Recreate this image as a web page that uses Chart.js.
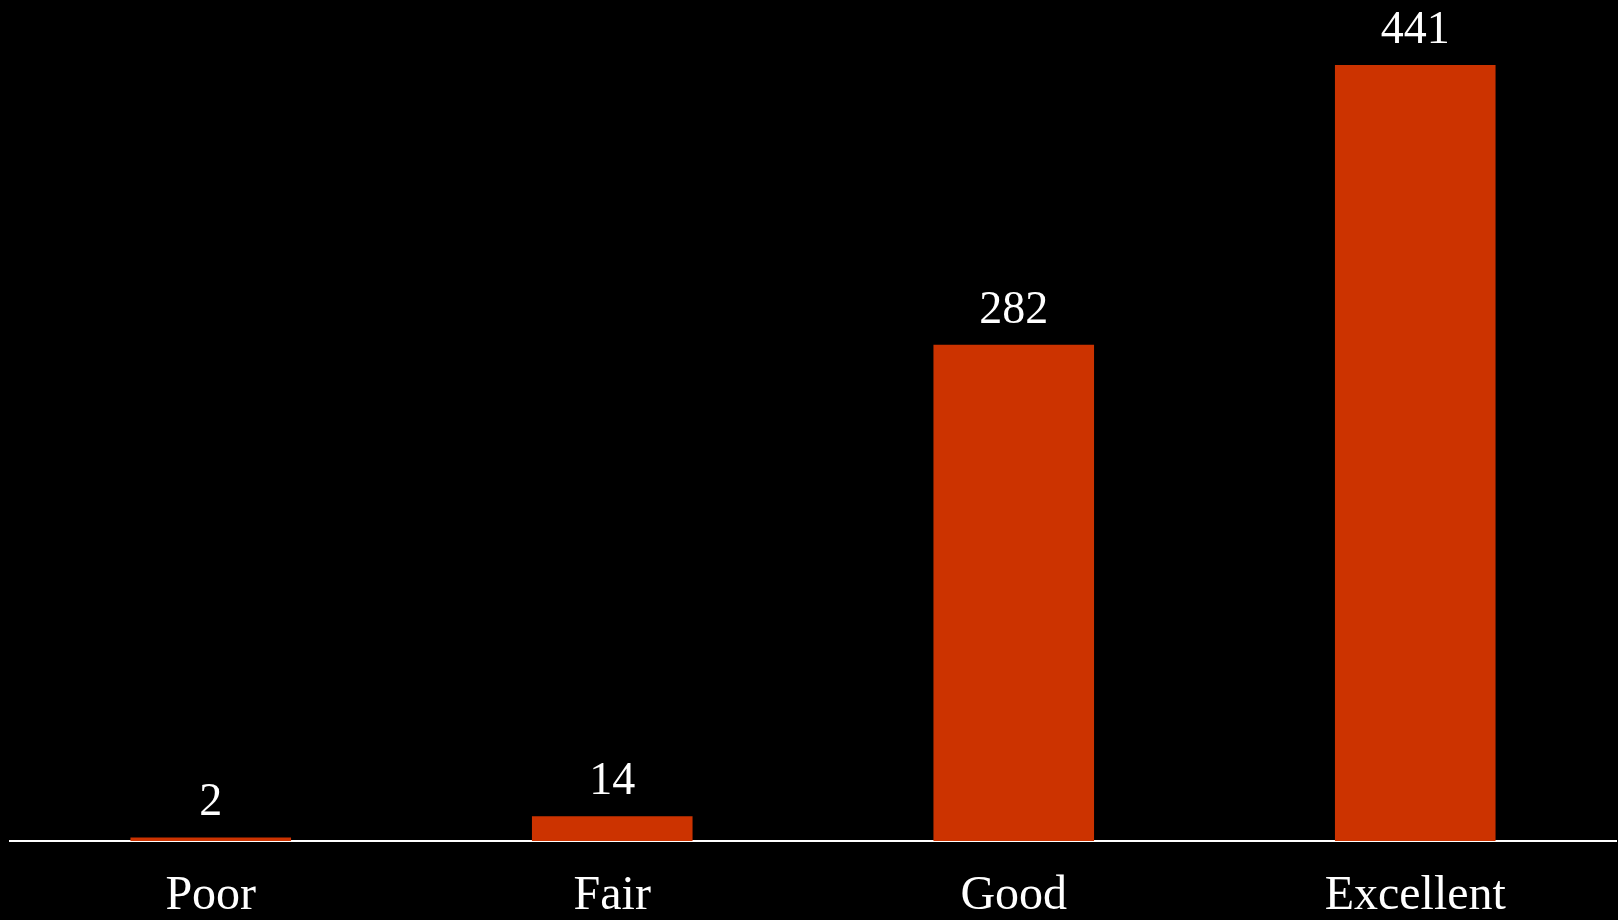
<!DOCTYPE html>
<html>
<head>
<meta charset="utf-8">
<script src="https://cdn.jsdelivr.net/npm/chart.js@4.4.1/dist/chart.umd.min.js"></script>
<style>
  html, body { margin: 0; padding: 0; background: #000; }
  #wrap { width: 1618px; height: 920px; }
</style>
</head>
<body>
<div id="wrap"><canvas id="chart"></canvas></div>
<script>
// ratings and how many answers each got
var categories = ['Poor', 'Fair', 'Good', 'Excellent'];
var counts = [2, 14, 282, 441];

var barColor = '#CC3300';
var textColor = '#FFFFFF';
var fontFamily = '"Liberation Serif", "Times New Roman", serif';

//
// Writes each count above its bar
//
var valueLabels = {
  id: 'valueLabels',
  afterDatasetsDraw: function (chart) {
    var ctx = chart.ctx;
    var meta = chart.getDatasetMeta(0);
    ctx.save();
    ctx.fillStyle = textColor;
    ctx.font = '46px ' + fontFamily;
    ctx.textAlign = 'center';
    ctx.textBaseline = 'alphabetic';
    meta.data.forEach(function (bar, i) {
      ctx.fillText(String(counts[i]), bar.x, bar.y - 22);
    });
    ctx.restore();
  }
};

new Chart(document.getElementById('chart'), {
  type: 'bar',
  data: {
    labels: categories,
    datasets: [{
      data: counts,
      backgroundColor: barColor,
      borderWidth: 0,
      categoryPercentage: 1,
      barPercentage: 0.4
    }]
  },
  options: {
    responsive: true,
    maintainAspectRatio: false,
    animation: false,
    // the axis block comes out taller than needed, pull it down a bit
    layout: { padding: { left: 10, right: 2, top: 0, bottom: -31 } },
    plugins: {
      legend: { display: false },
      tooltip: { enabled: false }
    },
    scales: {
      x: {
        grid: { display: false, drawTicks: false },
        border: { display: true, color: textColor, width: 2 },
        ticks: {
          color: textColor,
          padding: 31,
          font: { family: fontFamily, size: 48, lineHeight: 1 }
        }
      },
      y: {
        display: false,
        min: 0,
        max: 478
      }
    }
  },
  plugins: [valueLabels]
});
</script>
</body>
</html>
